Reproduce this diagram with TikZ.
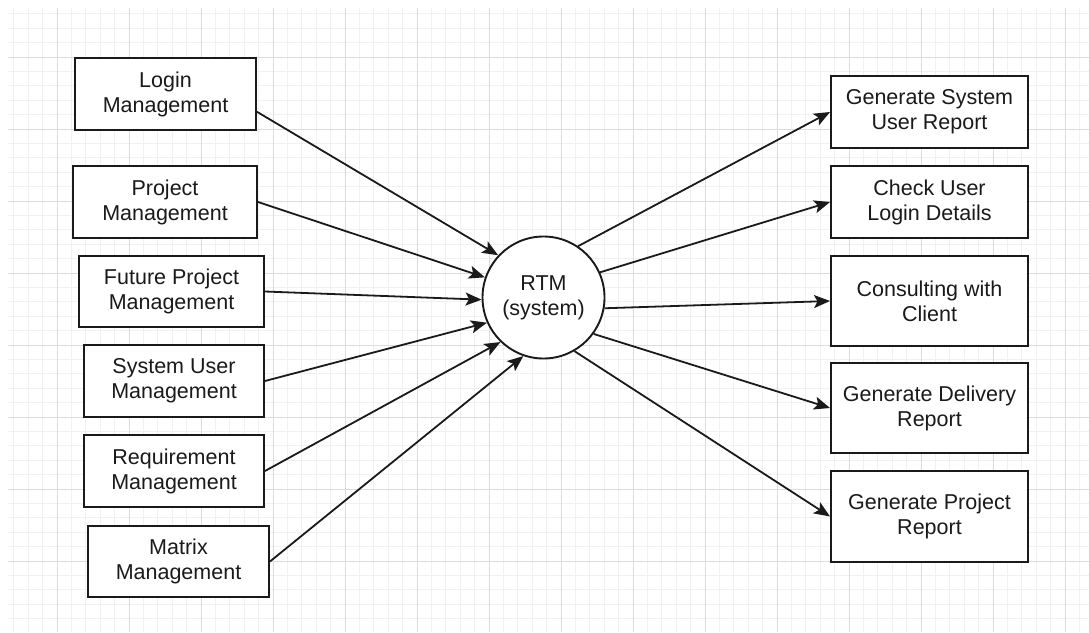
\documentclass[tikz,border=0pt]{standalone}
\usepackage{fontspec}
\setmainfont{Liberation Sans}
\usetikzlibrary{arrows.meta}
\definecolor{gmaj}{HTML}{DCDCDC}
\definecolor{gmin}{HTML}{F1F1F1}
\definecolor{ink}{HTML}{1A1A1A}
\begin{document}
\begin{tikzpicture}[x=1pt,y=-1pt,
 box/.style={draw=ink, line width=1.9pt, fill=white, align=center, inner sep=0pt, text=ink, font=\fontsize{21.5}{25}\selectfont},
 lbox/.style={box, minimum width=181pt, minimum height=72pt},
 rbox/.style={box, minimum width=197pt},
 arr/.style={draw=ink, line width=1.8pt, -{Stealth[length=16pt,width=13pt,inset=3.5pt]}}]
\useasboundingbox (0,0) rectangle (1089,632);
\fill[white] (0,0) rectangle (1089,632);
\begin{scope}
\clip (8,8) rectangle (1089,632);
\foreach \i in {0,...,75} { \draw[gmin, line width=0.8pt] ({13.8+14.4*\i},8) -- ({13.8+14.4*\i},632); }
\foreach \i in {0,...,43} { \draw[gmin, line width=0.8pt] (8,{13.8+14.4*\i}) -- (1089,{13.8+14.4*\i}); }
\foreach \i in {0,...,14} { \draw[gmaj, line width=1pt] ({57+72*\i},8) -- ({57+72*\i},632); }
\foreach \i in {0,...,7} { \draw[gmaj, line width=1pt] (8,{57+72*\i}) -- (1089,{57+72*\i}); }
\end{scope}

\node[lbox] (login) at (165.5,94) {Login\\Management};
\node[lbox, minimum width=184pt] (proj) at (165,202) {Project\\Management};
\node[lbox, minimum width=185pt, minimum height=71pt] (future) at (171.5,291.5) {Future Project\\Management};
\node[lbox, minimum width=180pt] (sysuser) at (174,381) {System User\\Management};
\node[lbox, minimum width=180pt] (req) at (174,471) {Requirement\\Management};
\node[lbox, minimum height=71pt] (matrix) at (178.5,561.5) {Matrix\\Management};

\node[circle, draw=ink, line width=1.9pt, fill=white, minimum size=122pt, inner sep=0pt, align=center, text=ink, font=\fontsize{21.5}{25}\selectfont] (rtm) at (543.5,297.5) {RTM\\(system)};

\node[rbox, minimum height=72pt] (gsur) at (929.5,112) {Generate System\\User Report};
\node[rbox, minimum height=72pt] (culd) at (929.5,202) {Check User\\Login Details};
\node[rbox, minimum height=90pt] (cwc) at (929.5,301) {Consulting with\\Client};
\node[rbox, minimum height=90pt] (gdr) at (929.5,408) {Generate Delivery\\Report};
\node[rbox, minimum height=91pt] (gpr) at (929.5,516.5) {Generate Project\\Report};

\draw[arr] (login.-11.25) -- (rtm.137.6);
\draw[arr] (proj.east) -- (rtm.161.7);
\draw[arr] (future.east) -- (rtm.182.3);
\draw[arr] (sysuser.east) -- (rtm.204.9);
\draw[arr] (req.east) -- (rtm.226.3);
\draw[arr] (matrix.east) -- (rtm.251);

\draw[arr] (rtm.56.1) -- (gsur.west);
\draw[arr] (rtm.24.2) -- (culd.west);
\draw[arr] (rtm.-10.7) -- (cwc.west);
\draw[arr] (rtm.-36.5) -- (gdr.west);
\draw[arr] (rtm.-60.2) -- (gpr.west);
\end{tikzpicture}
\end{document}
